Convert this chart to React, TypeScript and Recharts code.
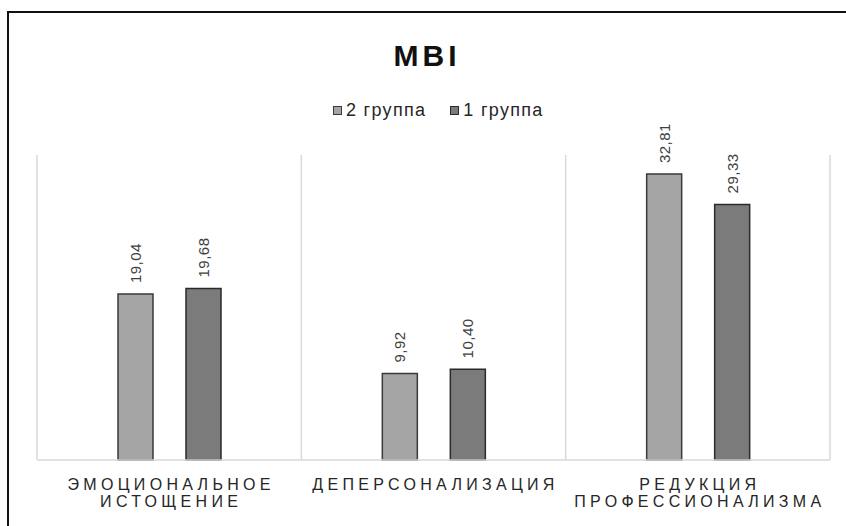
import React from 'react';
import { BarChart, Bar, XAxis, YAxis, CartesianGrid, LabelList } from 'recharts';

const categories = [
  ['ЭМОЦИОНАЛЬНОЕ', 'ИСТОЩЕНИЕ'],
  ['ДЕПЕРСОНАЛИЗАЦИЯ'],
  ['РЕДУКЦИЯ', 'ПРОФЕССИОНАЛИЗМА'],
];
const seriesNames = ['2 группа', '1 группа'];
const group2 = [19.04, 9.92, 32.81];
const group1 = [19.68, 10.4, 29.33];

const fills = ['#a5a5a5', '#7b7b7b'];
const strokes = ['#3a3a3a', '#2a2a2a'];

const data = categories.map((lines, i) => ({
  name: lines.join(' '),
  lines,
  g2: group2[i],
  g1: group1[i],
}));

const fmt = (v: number) => v.toFixed(2).replace('.', ',');

function ValueLabel(props: any) {
  const { x, y, width, value } = props;
  const cx = x + width / 2;
  const sy = y - 11;
  return (
    <text
      x={cx}
      y={sy}
      transform={`rotate(-90, ${cx}, ${sy})`}
      textAnchor="start"
      dominantBaseline="central"
      fontSize={15}
      letterSpacing={0.5}
      fill="#404040"
      fontFamily="Liberation Sans, Arial, sans-serif"
    >
      {fmt(value)}
    </text>
  );
}

function CatTick(props: any) {
  const { x, y, payload } = props;
  const lines: string[] = data[payload.index]?.lines ?? [payload.value];
  return (
    <text
      x={x + 2}
      y={y + 22}
      textAnchor="middle"
      fontSize={16}
      letterSpacing={4.3}
      fill="#262626"
      fontFamily="Liberation Sans, Arial, sans-serif"
    >
      {lines.map((l, i) => (
        <tspan key={i} x={x + 2} dy={i === 0 ? 0 : 17}>
          {l}
        </tspan>
      ))}
    </text>
  );
}

export default function App() {
  return (
    <div style={{ position: 'absolute', left: 0, top: 0, width: 846, height: 526, background: '#fff', overflow: 'hidden' }}>
      <div
        style={{
          position: 'absolute',
          left: 7,
          top: 11,
          width: 846,
          height: 526,
          borderTop: '2px solid #111',
          borderLeft: '2px solid #111',
        }}
      />
      <div
        style={{
          position: 'absolute',
          left: 4,
          top: 39,
          width: 846,
          textAlign: 'center',
          fontFamily: 'Liberation Sans, Arial, sans-serif',
          fontWeight: 'bold',
          fontSize: 30,
          letterSpacing: 4,
          color: '#111',
        }}
      >
        MBI
      </div>
      <div
        style={{
          position: 'absolute',
          left: 333,
          top: 100,
          display: 'flex',
          gap: 24,
          fontFamily: 'Liberation Sans, Arial, sans-serif',
          fontSize: 18,
          letterSpacing: 1.3,
          color: '#262626',
        }}
      >
        {seriesNames.map((n, i) => (
          <div key={n} style={{ display: 'flex', alignItems: 'center' }}>
            <span
              style={{
                display: 'inline-block',
                width: 7,
                height: 7,
                background: fills[i],
                border: `1px solid ${strokes[i]}`,
                marginRight: 4,
              }}
            />
            {n}
          </div>
        ))}
      </div>
      <BarChart
        width={846}
        height={526}
        data={data}
        margin={{ top: 155, right: 16, left: 37, bottom: 36 }}
        barSize={35}
        barGap={33}
        style={{ position: 'absolute', left: 0, top: 0 }}
      >
        <CartesianGrid
          horizontal={false}
          stroke="#d9d9d9"
          strokeWidth={1.5}
          verticalCoordinatesGenerator={({ offset }: any) => [
            offset.left,
            offset.left + offset.width / 3,
            offset.left + (offset.width * 2) / 3,
            offset.left + offset.width,
          ]}
        />
        <XAxis
          dataKey="name"
          axisLine={{ stroke: '#d9d9d9', strokeWidth: 1.5 }}
          tickLine={false}
          tick={<CatTick />}
          interval={0}
        />
        <YAxis hide domain={[0, 35]} />
        <Bar dataKey="g2" name={seriesNames[0]} fill={fills[0]} stroke={strokes[0]} strokeWidth={1.5} isAnimationActive={false}>
          <LabelList dataKey="g2" content={<ValueLabel />} />
        </Bar>
        <Bar dataKey="g1" name={seriesNames[1]} fill={fills[1]} stroke={strokes[1]} strokeWidth={1.5} isAnimationActive={false}>
          <LabelList dataKey="g1" content={<ValueLabel />} />
        </Bar>
      </BarChart>
    </div>
  );
}
